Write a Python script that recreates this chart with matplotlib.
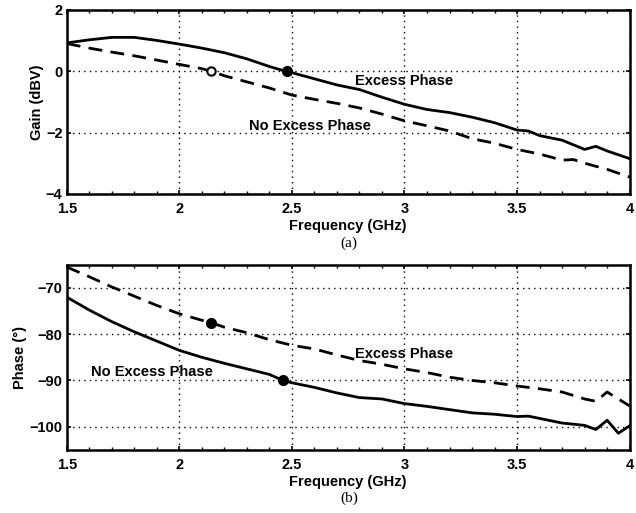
import matplotlib
matplotlib.use("Agg")
import matplotlib.pyplot as plt
from matplotlib.ticker import MultipleLocator

plt.rcParams['font.family'] = ['Liberation Sans', 'DejaVu Sans']

# (a) gain
freq_gain_exc = [1.5, 1.6, 1.7, 1.8, 1.9, 2.0, 2.1, 2.2, 2.3, 2.4, 2.47, 2.5, 2.6, 2.7, 2.8,
                 2.9, 3.0, 3.1, 3.2, 3.3, 3.4, 3.5, 3.55, 3.6, 3.7, 3.8, 3.85, 3.9, 4.0]
gain_exc = [0.92, 1.02, 1.1, 1.1, 1.0, 0.88, 0.75, 0.6, 0.4, 0.15, 0.0, -0.05, -0.25, -0.45, -0.6,
            -0.85, -1.08, -1.25, -1.35, -1.5, -1.68, -1.92, -1.95, -2.1, -2.25, -2.55, -2.45, -2.6, -2.85]
freq_gain_noexc = [1.5, 1.6, 1.7, 1.8, 1.9, 2.0, 2.1, 2.14, 2.2, 2.3, 2.4, 2.5, 2.6, 2.7, 2.8,
                   2.9, 3.0, 3.1, 3.2, 3.3, 3.4, 3.5, 3.6, 3.7, 3.75, 3.8, 3.9, 4.0]
gain_noexc = [0.9, 0.75, 0.62, 0.5, 0.36, 0.22, 0.08, 0.0, -0.15, -0.35, -0.55, -0.78, -0.92, -1.05, -1.2,
              -1.4, -1.62, -1.78, -1.95, -2.2, -2.35, -2.55, -2.7, -2.9, -2.88, -3.0, -3.2, -3.45]

# (b) phase
freq_ph_exc = [1.5, 1.6, 1.7, 1.8, 1.9, 2.0, 2.1, 2.14, 2.2, 2.3, 2.4, 2.5, 2.6, 2.7, 2.8, 2.9,
               3.0, 3.1, 3.2, 3.3, 3.4, 3.5, 3.6, 3.7, 3.8, 3.85, 3.9, 4.0]
phase_exc = [-65.5, -67.6, -69.8, -71.8, -73.8, -75.6, -77.0, -77.5, -78.5, -79.7, -81.2, -82.4, -83.2, -84.5,
             -85.7, -86.5, -87.5, -88.3, -89.3, -90.0, -90.5, -91.2, -91.8, -92.5, -94.0, -94.5, -92.5, -95.5]
freq_ph_noexc = [1.5, 1.6, 1.7, 1.8, 1.9, 2.0, 2.1, 2.2, 2.3, 2.4, 2.46, 2.5, 2.6, 2.7, 2.8, 2.9,
                 3.0, 3.1, 3.2, 3.3, 3.4, 3.5, 3.55, 3.6, 3.7, 3.8, 3.85, 3.9, 3.95, 4.0]
phase_noexc = [-72.0, -74.8, -77.3, -79.5, -81.5, -83.5, -85.0, -86.3, -87.5, -88.7, -90.0, -90.5, -91.5,
               -92.7, -93.7, -94.0, -95.0, -95.6, -96.3, -97.0, -97.3, -97.8, -97.7, -98.2, -99.2, -99.7,
               -100.6, -98.6, -101.4, -99.8]

fig = plt.figure(figsize=(6.36, 5.13), dpi=100)
ax1 = fig.add_axes([0.105, 0.622, 0.885, 0.359])
ax2 = fig.add_axes([0.105, 0.123, 0.885, 0.361])

def style(ax):
    ax.set_xlim(1.5, 4)
    ax.set_xticks([1.5, 2, 2.5, 3, 3.5, 4])
    ax.set_xticklabels(['1.5', '2', '2.5', '3', '3.5', '4'])
    ax.xaxis.set_minor_locator(MultipleLocator(0.1))
    ax.grid(True, which='major', color='black', linestyle=(0, (1, 3)), linewidth=1.0)
    ax.tick_params(which='major', direction='in', length=3, width=1.2, top=True, right=True, labelsize=10.5)
    ax.tick_params(which='minor', direction='in', length=2, width=1.0, top=True, right=True)
    ax.tick_params(axis='x', pad=6)
    ax.tick_params(axis='y', pad=3)
    for lab in ax.get_xticklabels() + ax.get_yticklabels():
        lab.set_fontweight('bold')
    for s in ax.spines.values():
        s.set_linewidth(1.8)
    ax.set_xlabel('Frequency (GHz)', fontsize=10.5, fontweight='bold', labelpad=2)

ax1.plot(freq_gain_exc, gain_exc, color='black', linewidth=2)
ax1.plot(freq_gain_noexc, gain_noexc, color='black', linewidth=2, linestyle=(0, (5, 3)))
ax1.plot(2.48, 0, 'o', color='black', markersize=7)
ax1.plot(2.14, 0, 'o', markerfacecolor='white', markeredgecolor='black', markeredgewidth=1.5, markersize=6)
ax1.set_ylim(-4, 2)
ax1.set_yticks([-4, -2, 0, 2])
ax1.set_yticklabels(['\u22124', '\u22122', '0', '2'])
style(ax1)
ax1.set_ylabel('Gain (dBV)', fontsize=10.5, fontweight='bold', labelpad=1)
ax1.text(3.0, -0.32, 'Excess Phase', fontsize=10.5, fontweight='bold', ha='center', va='center')
ax1.text(2.58, -1.8, 'No Excess Phase', fontsize=10.5, fontweight='bold', ha='center', va='center')
fig.text(0.549, 0.526, '(a)', fontsize=11, family='Liberation Serif', ha='center', va='center')

ax2.plot(freq_ph_noexc, phase_noexc, color='black', linewidth=2)
ax2.plot(freq_ph_exc, phase_exc, color='black', linewidth=2, linestyle=(0, (5, 3)))
ax2.plot(2.46, -90, 'o', color='black', markersize=7)
ax2.plot(2.14, -77.5, 'o', color='black', markersize=7)
ax2.set_ylim(-105, -65)
ax2.set_yticks([-100, -90, -80, -70])
ax2.set_yticklabels(['\u2212100', '\u221290', '\u221280', '\u221270'])
style(ax2)
ax2.set_ylabel('Phase (\u00b0)', fontsize=10.5, fontweight='bold', labelpad=2)
ax2.text(3.0, -84.3, 'Excess Phase', fontsize=10.5, fontweight='bold', ha='center', va='center')
ax2.text(1.88, -88.2, 'No Excess Phase', fontsize=10.5, fontweight='bold', ha='center', va='center')
fig.text(0.549, 0.029, '(b)', fontsize=11, family='Liberation Serif', ha='center', va='center')

fig.savefig('out.png', dpi=100)
